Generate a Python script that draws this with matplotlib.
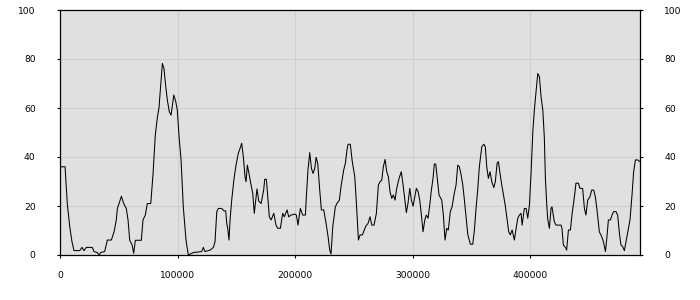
import matplotlib
matplotlib.use("Agg")
import matplotlib.pyplot as plt
import numpy as np

# sample position and value
xs = [0, 4300, 6200, 8300, 10200, 11900, 16800, 18700, 20400, 22400, 27500, 28900,
      31700, 33200, 34600, 38000, 40300, 43700, 46000, 47900, 48800, 50800, 52200,
      54200, 56400, 57900, 59300, 61300, 62700, 64100, 69200, 70600, 72600, 74300,
      77200, 79100, 81100, 82800, 84200, 85700, 87100, 88500, 90000, 91300, 93000,
      94500, 95900, 96800, 98500, 99800, 101300, 103000, 104900, 107200, 109200,
      113400, 120600, 121900, 123400, 127700, 130500, 131900, 133400, 134700, 137600,
      139600, 141000, 141900, 142700, 143800, 144700, 146100, 148100, 149800, 151700,
      153200, 154600, 156000, 157400, 158300, 159400, 160800, 162300, 164000, 165300,
      166200, 167600, 169100, 171100, 173300, 174200, 175600, 176800, 178100, 179600,
      181900, 183800, 185300, 187500, 189500, 190900, 193200, 194600, 196600, 199700,
      201100, 202500, 204500, 206500, 208800, 209600, 211000, 212500, 213900, 215300,
      216800, 217900, 219300, 221000, 222400, 224400, 226400, 228100, 229500, 230600,
      232100, 234300, 235700, 237700, 239100, 241400, 242800, 244200, 245100, 247000,
      248700, 250800, 252200, 253900, 255300, 257300, 260200, 262100, 263800, 265300,
      267200, 269200, 270900, 272300, 273800, 275100, 276600, 278000, 279400, 280800,
      282300, 283600, 285100, 286500, 288500, 290400, 291900, 293300, 294700, 296100,
      297600, 299000, 300400, 301900, 303200, 304700, 306100, 307500, 308900, 310400,
      311700, 313200, 314600, 316000, 317400, 318500, 319700, 321100, 322500, 324800,
      326200, 327600, 329100, 330400, 332100, 333600, 335500, 337000, 338400, 339800,
      341300, 342700, 344100, 345500, 347000, 349200, 351200, 352600, 354000, 355500,
      356800, 358900, 360600, 361900, 363100, 364500, 365900, 367400, 369100, 370400,
      371900, 373000, 374400, 376100, 377600, 379000, 380700, 381800, 383200, 384700,
      386600, 388100, 389500, 390900, 392300, 393200, 394300, 395100, 396600, 398000,
      399400, 400800, 402300, 403600, 405100, 406500, 407900, 409300, 410800, 412100,
      413000, 414100, 414900, 416400, 417800, 418600, 420600, 422000, 426300, 427100,
      428300, 430000, 431100, 432600, 434300, 435600, 437700, 439000, 441100, 442400,
      444700, 446200, 447500, 449000, 450900, 452400, 454100, 455500, 456900, 458900,
      460900, 462400, 464100, 465400, 466600, 468300, 469700, 471100, 473100, 474500,
      476000, 477300, 478800, 480200, 481600, 483000, 485000, 486700, 488100, 489600,
      491500, 493500]
ys = [36, 36, 21, 11.5, 5.4, 1.8, 1.8, 3.1, 1.8, 3.1, 3.1, 1.4,
      1, 0, 1, 1.4, 6.1, 6.1, 9.5, 14.3, 19, 21.8, 24,
      21, 19, 14.3, 6, 4.2, 0.7, 6, 6, 14.3, 16.3, 21,
      21, 32.6, 49, 56, 59.9, 69.4, 78.2, 76, 68.7, 63.3, 58.5,
      57.1, 61.9, 65.3, 62.6, 59.2, 48.3, 38.8, 19.7, 6.1, 0,
      1, 1.4, 3.1, 1.4, 2, 3.1, 5.4, 17.7, 19, 19,
      18, 18, 12.9, 10.9, 6.1, 14.3, 22.4, 31.3, 36.7, 41.5,
      43.5, 45.6, 40.1, 32, 29.9, 36.7, 33.3, 29.3, 25.2, 17,
      21, 27, 22, 21, 26.5, 30.9, 30.9, 23.8, 15.6, 14.3,
      17, 12.2, 10.9, 10.9, 17, 15.6, 18.4, 15.6, 16.3, 16.7,
      16.3, 12.2, 19, 16.3, 16.3, 23.8, 34.7, 41.8, 35.4, 33.3,
      35.4, 39.9, 37.4, 26.5, 18.4, 18.4, 12.9, 7.5, 2, 0.4,
      11.6, 19.7, 21.1, 22.4, 27.9, 34.7, 37.4, 42.9, 45.2, 45.2,
      38.1, 32, 21.1, 6.1, 8.2, 8.2, 11.8, 12.9, 15.6, 12.2,
      12.2, 17, 28.6, 29.9, 30.6, 36, 39, 34, 32, 25.8,
      23.1, 24.5, 22.4, 27.2, 31.3, 34, 28.6, 23.1, 17.3, 21.1,
      27.2, 22.4, 19.9, 23.8, 27.2, 25.8, 22.4, 16.3, 9.5, 14.3,
      16.3, 15, 20.4, 26.5, 31.3, 37.1, 37.1, 30.6, 24.5, 22.4,
      16.3, 6.1, 10.9, 10.2, 17.7, 19.7, 25.2, 28.6, 36.7, 36,
      32.7, 28.6, 22.4, 15.6, 8.2, 4.4, 4.4, 10.2, 19, 27.2,
      36, 44.2, 45.2, 44.2, 36, 31.3, 34, 29.9, 27.5, 29.9,
      37.4, 38.1, 33.3, 27.9, 23.8, 19.7, 13.6, 9.5, 8.2, 10.2,
      6.1, 10.9, 15, 16.3, 17, 12.2, 16.3, 19, 19, 15,
      20.4, 33.3, 50.3, 59.2, 66.7, 74.1, 72.8, 64.6, 59.2, 48,
      31.3, 21.1, 15, 10.9, 19, 19.7, 13.6, 12.2, 12.2, 10.9,
      4.1, 3.1, 2, 10.2, 10.2, 16.3, 23.8, 29.3, 29.3, 27.2,
      27.2, 19, 16.3, 22.4, 23.8, 26.5, 26.5, 23.8, 18.4, 9.5,
      7.5, 5.4, 1.4, 7.5, 14.3, 14.3, 16.3, 17.7, 17.7, 16.3,
      8.8, 4.1, 3.4, 1.8, 5.4, 8.8, 14.3, 24.5, 34, 38.8,
      38.8, 38.1]

x_ticks = [0, 100000, 200000, 300000, 400000]
y_ticks = [0, 20, 40, 60, 80, 100]

fig = plt.figure(figsize=(7, 3), dpi=100)
ax = fig.add_axes([60 / 700, 45 / 300, 580 / 700, 245 / 300])
ax.set_facecolor("#e0e0e0")
ax.plot(xs, ys, color="black", lw=0.75)
ax.set_xlim(0, 493500)
ax.set_ylim(0, 100)
ax.set_xticks(x_ticks)
ax.set_xticklabels([str(t) for t in x_ticks])
ax.set_yticks(y_ticks)
ax.grid(True, color="#cfcfcf", lw=0.8)
ax.set_axisbelow(True)
for s in ax.spines.values():
    s.set_linewidth(0.9)
ax.tick_params(axis="y", which="both", left=True, right=True, labelleft=True,
               labelright=True, length=2.5, width=0.8, pad=15, labelsize=6.6)
ax.tick_params(axis="x", length=2.5, width=0.8, pad=9, labelsize=6.6)

fig.savefig("out.png", dpi=100)
